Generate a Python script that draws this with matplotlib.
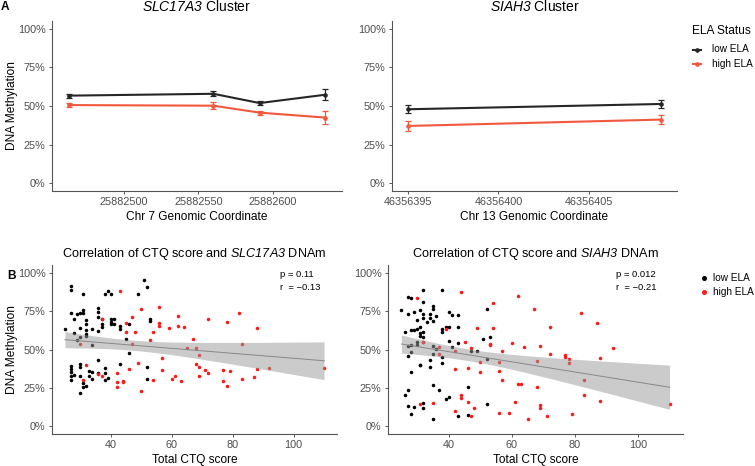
import numpy as np
import matplotlib
matplotlib.use('Agg')
import matplotlib.pyplot as plt
from matplotlib.lines import Line2D

plt.rcParams['font.family'] = ['Liberation Sans', 'DejaVu Sans']
plt.rcParams['mathtext.fontset'] = 'custom'
plt.rcParams['mathtext.rm'] = 'Liberation Sans'
plt.rcParams['mathtext.sf'] = 'Liberation Sans:italic'

# ── Data ──────────────────────────────────────────────────────────────────────

# Panel A: mean DNA methylation (%) per CpG with error bars
slc_pos = [25882463, 25882560, 25882591, 25882635]
slc_low = [56.7, 57.9, 51.9, 57.3]
slc_low_err = [1.3, 1.7, 1.5, 3.5]
slc_high = [50.6, 50.2, 45.7, 42.5]
slc_high_err = [1.3, 2.2, 1.3, 4.0]

siah_pos = [46356395, 46356409]
siah_low = [47.9, 51.3]
siah_low_err = [2.5, 2.4]
siah_high = [37.1, 41.2]
siah_high_err = [3.0, 2.7]

# Panel B: total CTQ score vs DNA methylation (%)
slc_low_ctq = [25, 27, 27, 27, 27, 27, 27, 27, 27, 28, 28, 29, 28, 29, 30, 30, 30, 30,
               30, 30, 30, 31, 31, 31, 31, 31, 32, 32, 32, 32, 32, 32, 33, 33, 34, 34,
               34, 34, 36, 36, 36, 36, 36, 36, 37, 37, 37, 38, 38, 38, 38, 39, 39, 40,
               40, 40, 40, 41, 41, 43, 43, 43, 45, 46, 46, 49, 51, 52, 52, 52, 53, 53]
slc_low_dnam = [63.6, 32.7, 30.3, 91.3, 88.7, 73.6, 39.4, 37.2, 35.5, 70.1, 61.0, 56.3,
                33.3, 72.9, 58.4, 40.3, 74.0, 64.3, 32.5, 21.6, 38.5, 74.0, 75.8, 86.4,
                28.1, 25.3, 62.8, 69.3, 66.5, 60.4, 58.9, 26.4, 36.1, 32.9, 63.6, 53.2,
                35.1, 30.7, 77.3, 74.5, 71.4, 62.1, 34.6, 43.3, 70.1, 66.9, 64.5, 37.7,
                34.6, 30.3, 85.9, 88.1, 31.2, 85.9, 70.1, 68.0, 66.5, 70.1, 66.5, 65.4,
                63.6, 40.5, 56.7, 66.5, 47.4, 85.9, 95.0, 90.9, 38.3, 30.5, 69.7, 68.6]
slc_high_ctq = [30, 32, 31, 36, 37, 37, 42, 42, 42, 43, 44, 44, 45, 45, 46, 47, 47, 48,
                49, 50, 50, 53, 54, 54, 56, 56, 56, 57, 57, 59, 60, 61, 62, 62, 63, 64,
                65, 67, 68, 68, 69, 69, 69, 71, 72, 72, 77, 77, 78, 78, 79, 82, 83, 83,
                87, 88, 88, 92, 110]
slc_high_dnam = [53.5, 39.8, 30.3, 34.2, 70.1, 32.9, 34.4, 28.6, 25.5, 88.1, 29.7, 28.6,
                 67.5, 61.7, 37.0, 71.2, 53.5, 61.7, 40.9, 76.2, 23.2, 56.3, 61.7, 29.9,
                 77.5, 67.5, 65.4, 44.6, 36.8, 64.1, 30.5, 32.5, 71.9, 65.2, 29.7, 64.9,
                 51.1, 56.7, 51.1, 40.7, 46.1, 38.7, 32.9, 36.4, 34.6, 70.1, 36.6, 29.4,
                 68.2, 26.4, 35.9, 73.6, 53.5, 30.7, 31.8, 64.3, 37.0, 37.9, 37.9]

siah_low_ctq = [25, 27, 28, 27, 29, 26, 28, 29, 27, 28, 27, 28, 28, 26, 27, 27, 28, 29,
                30, 30, 30, 30, 31, 31, 31, 31, 31, 32, 31, 32, 32, 32, 32, 32, 32, 32,
                32, 33, 34, 34, 34, 34, 35, 35, 35, 35, 35, 35, 35, 36, 36, 37, 38, 38,
                38, 38, 38, 39, 39, 40, 40, 40, 40, 41, 41, 43, 43, 43, 43, 46, 46, 47,
                49, 51, 52, 52, 52, 53]
siah_low_dnam = [75.8, 84.0, 83.8, 73.0, 74.7, 61.6, 62.9, 62.4, 52.1, 53.1, 46.0, 48.2,
                 35.6, 20.5, 23.5, 13.4, 7.8, 12.5, 68.9, 63.3, 55.1, 53.1, 59.0, 40.2,
                 64.6, 60.5, 40.2, 57.9, 76.0, 80.8, 73.4, 70.8, 61.1, 54.6, 15.1, 11.9,
                 88.6, 67.6, 70.4, 73.0, 43.2, 38.4, 78.4, 68.3, 76.2, 52.5, 47.3, 27.0,
                 4.5, 71.5, 50.3, 23.8, 63.3, 88.6, 61.1, 44.9, 41.0, 64.6, 17.9, 64.8,
                 55.5, 19.0, 74.3, 72.4, 51.8, 72.4, 64.4, 54.2, 6.7, 25.5, 7.1, 49.2,
                 49.2, 56.8, 43.8, 76.2, 14.3, 57.9]
siah_high_ctq = [30, 31, 32, 35, 37, 37, 39, 42, 42, 42, 44, 44, 44, 45, 46, 46, 47, 47,
                 48, 49, 50, 50, 53, 53, 54, 54, 56, 56, 56, 57, 57, 59, 60, 61, 62, 62,
                 63, 64, 65, 67, 68, 68, 69, 69, 69, 71, 72, 72, 77, 77, 78, 78, 79, 82,
                 83, 83, 87, 88, 88, 92, 110]
siah_high_dnam = [83.8, 14.3, 54.6, 15.3, 51.4, 47.1, 63.3, 37.4, 9.9, 48.8, 87.5, 20.1,
                  18.6, 55.1, 37.8, 15.8, 51.0, 6.9, 11.9, 63.9, 41.7, 35.6, 53.6, 52.9,
                  80.1, 64.1, 42.1, 36.3, 8.9, 48.8, 30.2, 8.9, 54.0, 15.8, 85.1, 27.4,
                  27.4, 51.4, 5.0, 76.2, 25.5, 42.3, 52.5, 13.6, 11.9, 6.7, 64.6, 46.9,
                  46.4, 45.1, 43.8, 41.0, 8.0, 73.7, 30.2, 20.7, 67.2, 44.3, 16.6, 51.2,
                  14.3]

slc_stats = ['p = 0.11', 'r  = \u22120.13']
siah_stats = ['p = 0.012', 'r  = \u22120.21']

groups = ['low ELA', 'high ELA']
y_ticks = [0, 25, 50, 75, 100]
y_ticklabels = ['0%', '25%', '50%', '75%', '100%']

# ── Style ─────────────────────────────────────────────────────────────────────

W, H = 755, 466
COL_LOW = '#262626'
COL_HIGH = '#F2583E'
PT_LOW = '#000000'
PT_HIGH = '#FF1A1A'
AXIS_COL = '#555555'
TICK_TXT = '#4D4D4D'
T_CRIT = 1.98


def px_axes(fig, left, top, right, bottom):
  ax = fig.add_axes([left / W, 1 - bottom / H, (right - left) / W, (bottom - top) / H])
  ax.px = (left, top, right, bottom)
  return ax


def ax_frac(ax, x=None, y=None):
  left, top, right, bottom = ax.px
  fx = None if x is None else (x - left) / (right - left)
  fy = None if y is None else (bottom - y) / (bottom - top)
  return fx, fy


def style_axes(ax, xmargin):
  for s in ('top', 'right'):
    ax.spines[s].set_visible(False)
  for s in ('left', 'bottom'):
    ax.spines[s].set_color(AXIS_COL)
    ax.spines[s].set_linewidth(0.8)
  ax.tick_params(colors=AXIS_COL, labelcolor=TICK_TXT, labelsize=7.8, length=2.5,
                 width=0.7, pad=2)
  ax.set_ylim(-5, 105)
  ax.set_yticks(y_ticks)
  ax.set_yticklabels(y_ticklabels)
  ax.margins(x=xmargin)


def set_labels(ax, title, title_y, title_size, xlabel, xlabel_y, ylabel=None):
  _, ty = ax_frac(ax, y=title_y)
  ax.text(0.5, ty, title, transform=ax.transAxes, ha='center', va='center',
          fontsize=title_size)
  _, xy = ax_frac(ax, y=xlabel_y)
  ax.text(0.5, xy, xlabel, transform=ax.transAxes, ha='center', va='center', fontsize=8.6)
  if ylabel:
    yx, _ = ax_frac(ax, x=12)
    ax.text(yx, 0.5, ylabel, transform=ax.transAxes, ha='center', va='center',
            rotation=90, fontsize=8.6)


def fit_band(x, y, n=100):
  x = np.asarray(x, float)
  y = np.asarray(y, float)
  slope, icpt = np.polyfit(x, y, 1)
  xs = np.linspace(x.min(), x.max(), n)
  yhat = slope * xs + icpt
  resid = y - (slope * x + icpt)
  s = np.sqrt(np.sum(resid ** 2) / (len(x) - 2))
  se = s * np.sqrt(1 / len(x) + (xs - x.mean()) ** 2 / np.sum((x - x.mean()) ** 2))
  return xs, yhat, yhat - T_CRIT * se, yhat + T_CRIT * se


def plot_cluster(ax, pos, low, low_err, high, high_err, xticks):
  for vals, errs, col in ((low, low_err, COL_LOW), (high, high_err, COL_HIGH)):
    ax.errorbar(pos, vals, yerr=errs, color=col, lw=1.5, marker='o', ms=2.3,
                capsize=2.5, elinewidth=0.9, capthick=0.9)
  style_axes(ax, 0.065)
  ax.set_xticks(xticks)
  ax.set_xticklabels([str(t) for t in xticks])


def plot_corr(ax, lx, ly, hx, hy, stats):
  ax.scatter(lx, ly, s=6.5, color=PT_LOW, lw=0, zorder=2)
  ax.scatter(hx, hy, s=6.5, color=PT_HIGH, lw=0, zorder=2)
  xs, yhat, lo, hi = fit_band(lx + hx, ly + hy)
  ax.fill_between(xs, lo, hi, color='#999999', alpha=0.5, lw=0, zorder=3)
  ax.plot(xs, yhat, color='#888888', lw=0.7, zorder=4)
  style_axes(ax, 0.05)
  ax.set_xticks([40, 60, 80, 100])
  left = ax.px[0]
  sx, _ = ax_frac(ax, x=left + 227.5)
  for line, ypx in zip(stats, (274.3, 287.7)):
    _, sy = ax_frac(ax, y=ypx)
    ax.text(sx, sy, line, transform=ax.transAxes, fontsize=6.8, va='center', ha='left')


# ── Figure ────────────────────────────────────────────────────────────────────

fig = plt.figure(figsize=(W / 100, H / 100), dpi=100)

ax1 = px_axes(fig, 52, 21, 342, 191)
plot_cluster(ax1, slc_pos, slc_low, slc_low_err, slc_high, slc_high_err,
             [25882500, 25882550, 25882600])
set_labels(ax1, r'$\mathsf{SLC17A3}$ Cluster', 6.5, 10, 'Chr 7 Genomic Coordinate', 217,
           'DNA Methylation')

ax2 = px_axes(fig, 392, 21, 677, 191)
plot_cluster(ax2, siah_pos, siah_low, siah_low_err, siah_high, siah_high_err,
             [46356395, 46356400, 46356405])
set_labels(ax2, r'$\mathsf{SIAH3}$ Cluster', 6.5, 10, 'Chr 13 Genomic Coordinate', 217)

ax3 = px_axes(fig, 52, 265, 337, 434)
plot_corr(ax3, slc_low_ctq, slc_low_dnam, slc_high_ctq, slc_high_dnam, slc_stats)
set_labels(ax3, r'Correlation of CTQ score and $\mathsf{SLC17A3}$ DNAm', 253.5, 9.1,
           'Total CTQ score', 460, 'DNA Methylation')

ax4 = px_axes(fig, 388, 265, 683, 434)
plot_corr(ax4, siah_low_ctq, siah_low_dnam, siah_high_ctq, siah_high_dnam, siah_stats)
set_labels(ax4, r'Correlation of CTQ score and $\mathsf{SIAH3}$ DNAm', 253.5, 9.1,
           'Total CTQ score', 460)

# ── Legends (drawn by hand in figure pixels) ─────────────────────────────────

def fx(x):
  return x / W


def fy(y):
  return 1 - y / H


fig.text(fx(691.5), fy(31), 'ELA Status', fontsize=8.6, va='center', ha='left')
for label, col, ypx in zip(groups, (COL_LOW, COL_HIGH), (49.5, 64.3)):
  fig.add_artist(Line2D([fx(692.5), fx(701)], [fy(ypx), fy(ypx)], color=col, lw=1.5))
  fig.add_artist(Line2D([fx(696.8)], [fy(ypx)], color=col, marker='o', ms=2.3, lw=0))
  fig.text(fx(712), fy(ypx), label, fontsize=7.2, va='center', ha='left')

for label, col, ypx in zip(groups, (PT_LOW, PT_HIGH), (277.7, 291.7)):
  fig.add_artist(Line2D([fx(704)], [fy(ypx)], color=col, marker='o', ms=2.6, lw=0))
  fig.text(fx(713), fy(ypx), label, fontsize=7.2, va='center', ha='left')

fig.text(fx(1), fy(7), 'A', fontsize=8.6, fontweight='bold', va='center')
fig.text(fx(7), fy(276), 'B', fontsize=8.6, fontweight='bold', va='center')

fig.savefig('out.png', dpi=100)
